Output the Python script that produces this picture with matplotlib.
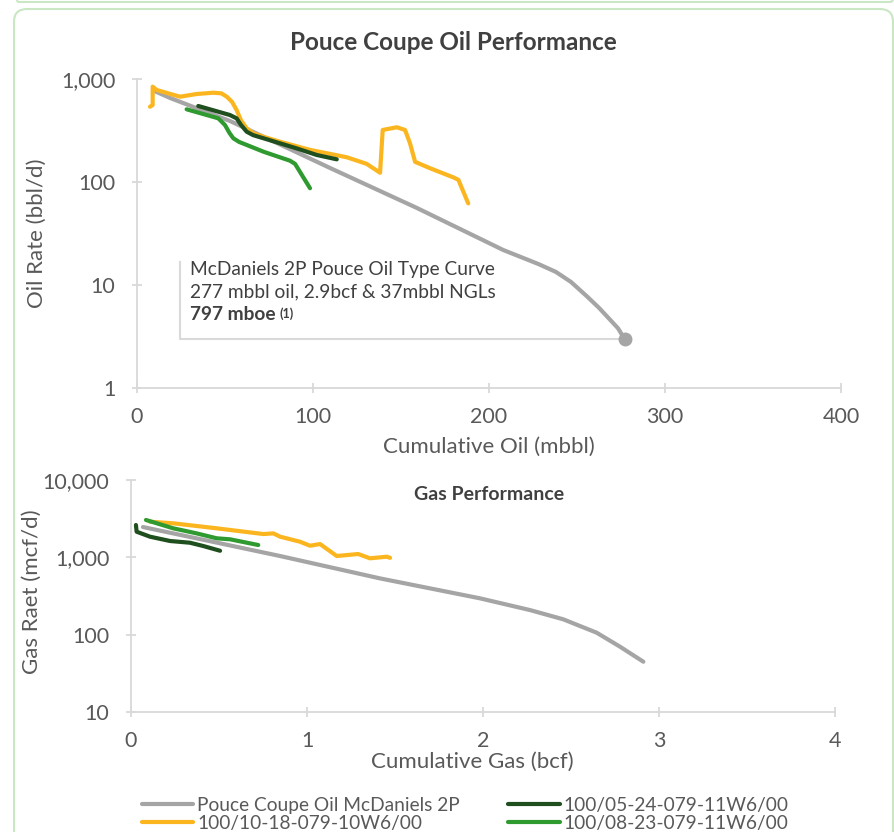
import numpy as np
import matplotlib
matplotlib.use("Agg")
import matplotlib.pyplot as plt
from matplotlib.patches import FancyBboxPatch
from matplotlib.ticker import FixedLocator, FuncFormatter, NullLocator

plt.rcParams['font.family'] = ['Lato', 'DejaVu Sans']

# --- oil performance (cum oil mbbl, rate bbl/d) ---
tc_oil_cum = [10, 18.8, 53, 110, 159, 208, 228, 238, 246.6, 255.5, 262.5, 268.8, 273.3, 277]
tc_oil_rate = [764, 654, 390, 136, 56, 21.9, 16.0, 13.4, 10.7, 7.8, 6.0, 4.6, 3.8, 3.0]

w1018_oil_cum = [7.4, 8.9, 8.9, 11.2, 24.4, 33.9, 43.4, 48, 51, 54, 56.6, 59, 62.3, 66, 71.8, 81.3, 98.3,
                 119.1, 130.5, 138.1, 139.6, 147.6, 152.3, 155.1, 158, 166.5, 179.7, 182.6, 188.2]
w1018_oil_rate = [538, 559, 842, 782, 673, 715, 736, 725, 673, 600, 500, 400, 332, 298, 275, 246, 205,
                  174, 150, 123, 320, 340, 320, 238, 157, 136, 111, 105, 62]

w0524_oil_cum = [34.8, 52.8, 56.6, 59, 62.3, 66, 71.8, 90.7, 102.1, 113.5]
w0524_oil_rate = [547, 447, 415, 360, 308, 285, 266, 212, 183, 166]

w0823_oil_cum = [28.2, 46.2, 50, 52.5, 54.7, 58, 62.3, 71.8, 86.9, 89.8, 98.3]
w0823_oil_rate = [508, 415, 357, 300, 266, 245, 229, 197, 161, 150, 87]

# --- gas performance (cum gas bcf, rate mcf/d) ---
tc_gas_cum = [0.068, 0.847, 1.415, 1.983, 2.267, 2.456, 2.646, 2.778, 2.911]
tc_gas_rate = [2466, 1040, 534, 295, 208, 158, 106, 70, 44.7]

w1018_gas_cum = [0.108, 0.24, 0.487, 0.752, 0.809, 0.847, 0.96, 1.017, 1.074, 1.169, 1.291, 1.358, 1.453, 1.472]
w1018_gas_rate = [2890, 2754, 2372, 2000, 2040, 1849, 1592, 1413, 1486, 1040, 1104, 971, 1019, 985]

w0524_gas_cum = [0.028, 0.032, 0.108, 0.222, 0.335, 0.411, 0.506]
w0524_gas_rate = [2618, 2145, 1849, 1626, 1545, 1400, 1216]

w0823_gas_cum = [0.085, 0.24, 0.373, 0.487, 0.563, 0.723]
w0823_gas_rate = [3042, 2372, 2041, 1762, 1710, 1443]

series_names = ['Pouce Coupe Oil McDaniels 2P', '100/10-18-079-10W6/00',
                '100/05-24-079-11W6/00', '100/08-23-079-11W6/00']
series_colors = ['#a5a5a5', '#fbb61f', '#1f4f1f', '#2f9a2f']

callout_corner = (24.4, 16.7)
callout_lines = ['McDaniels 2P Pouce Oil Type Curve', '277 mbbl oil, 2.9bcf & 37mbbl NGLs']

AXIS_GRAY = '#d9d9d9'
TEXT_GRAY = '#595959'
DARK_TEXT = '#404040'


def style_axes(ax, xticks, yticks):
    for s in ['top', 'right']:
        ax.spines[s].set_visible(False)
    for s in ['left', 'bottom']:
        ax.spines[s].set_color(AXIS_GRAY)
        ax.spines[s].set_linewidth(1.3)
    ax.xaxis.set_major_locator(FixedLocator(xticks))
    ax.yaxis.set_major_locator(FixedLocator(yticks))
    ax.yaxis.set_minor_locator(NullLocator())
    ax.yaxis.set_major_formatter(FuncFormatter(lambda v, p: f'{v:,.0f}'))
    ax.xaxis.set_major_formatter(FuncFormatter(lambda v, p: f'{v:g}'))
    ax.tick_params(axis='both', direction='inout', length=7, width=1.3,
                   color=AXIS_GRAY, labelcolor=TEXT_GRAY, labelsize=15.5)
    ax.tick_params(axis='y', pad=12)
    ax.tick_params(axis='x', pad=10)


def draw(ax, x, y, color, z):
    return ax.plot(x, y, color=color, lw=3, solid_capstyle='round',
                   solid_joinstyle='round', zorder=z)[0]


fig = plt.figure(figsize=(8.94, 8.32), dpi=100)
W, H = 894, 832

# green frames
fig.patches.append(FancyBboxPatch((14 / W, -0.05), 879 / W, 1.05 - 9 / H,
                                  boxstyle='round,pad=0,rounding_size=0.015',
                                  transform=fig.transFigure, fc='none', ec='#c9e7c3', lw=1.5))
fig.patches.append(FancyBboxPatch((14 / W, 1 - 2 / H), 879 / W, 0.5,
                                  boxstyle='round,pad=0,rounding_size=0.004',
                                  transform=fig.transFigure, fc='none', ec='#c9e7c3', lw=1.5))

# ---------- oil ----------
ax1 = fig.add_axes([137 / W, 1 - 388 / H, 704 / W, 309 / H])
ax1.set_yscale('log')
ax1.set_xlim(0, 400)
ax1.set_ylim(1, 1000)
style_axes(ax1, [0, 100, 200, 300, 400], [1, 10, 100, 1000])

draw(ax1, tc_oil_cum, tc_oil_rate, series_colors[0], 2)
ax1.plot(tc_oil_cum[-1], tc_oil_rate[-1], 'o', color=series_colors[0], ms=9, zorder=3)
draw(ax1, w1018_oil_cum, w1018_oil_rate, series_colors[1], 3)
draw(ax1, w0524_oil_cum, w0524_oil_rate, series_colors[2], 4)
draw(ax1, w0823_oil_cum, w0823_oil_rate, series_colors[3], 4)

# callout
ax1.plot([callout_corner[0], callout_corner[0], tc_oil_cum[-1]],
         [callout_corner[1], tc_oil_rate[-1], tc_oil_rate[-1]],
         color=AXIS_GRAY, lw=1.5, zorder=1)
tx = (190 - 137) / 704
for i, line in enumerate(callout_lines):
    ax1.text(tx, 1 - (270 + 22 * i - 79) / 309, line, transform=ax1.transAxes,
             fontsize=13.8, color=DARK_TEXT, va='center', ha='left')
t3 = ax1.text(tx, 1 - (314 - 79) / 309, '797 mboe', transform=ax1.transAxes,
              fontsize=13.8, color=DARK_TEXT, va='center', ha='left', fontweight='bold')
ax1.annotate('(1)', xy=(1, 1), xycoords=t3, xytext=(3, -1), textcoords='offset points',
             fontsize=9, fontweight='bold', color=DARK_TEXT, va='top', ha='left')

fig.text(453 / W, 1 - 42 / H, 'Pouce Coupe Oil Performance', ha='center', va='center',
         fontsize=17.5, fontweight='bold', color=DARK_TEXT)
fig.text(37 / W, 1 - 233 / H, 'Oil Rate (bbl/d)', rotation=90, ha='center', va='center',
         fontsize=16, color=TEXT_GRAY)
fig.text(489 / W, 1 - 447 / H, 'Cumulative Oil (mbbl)', ha='center', va='center',
         fontsize=16, color=TEXT_GRAY)

# ---------- gas ----------
ax2 = fig.add_axes([131 / W, 1 - 712 / H, 704 / W, 232 / H])
ax2.set_yscale('log')
ax2.set_xlim(0, 4)
ax2.set_ylim(10, 10000)
style_axes(ax2, [0, 1, 2, 3, 4], [10, 100, 1000, 10000])

h0 = draw(ax2, tc_gas_cum, tc_gas_rate, series_colors[0], 2)
h1 = draw(ax2, w1018_gas_cum, w1018_gas_rate, series_colors[1], 3)
h2 = draw(ax2, w0524_gas_cum, w0524_gas_rate, series_colors[2], 4)
h3 = draw(ax2, w0823_gas_cum, w0823_gas_rate, series_colors[3], 4)

fig.text(489 / W, 1 - 494 / H, 'Gas Performance', ha='center', va='center',
         fontsize=14, fontweight='bold', color=DARK_TEXT)
fig.text(32 / W, 1 - 592 / H, 'Gas Raet (mcf/d)', rotation=90, ha='center', va='center',
         fontsize=16, color=TEXT_GRAY)
fig.text(472 / W, 1 - 762 / H, 'Cumulative Gas (bcf)', ha='center', va='center',
         fontsize=16, color=TEXT_GRAY)

# legend: column-wise fill -> row 1 = gray, dark green ; row 2 = yellow, green
fig.legend([h0, h1, h2, h3], series_names, ncol=2, loc='upper left',
           bbox_to_anchor=(132 / W, 1 - 787 / H), frameon=False,
           fontsize=13.8, handlelength=2.7, handletextpad=0.2, columnspacing=2.5,
           labelspacing=0.08, borderpad=0, labelcolor=TEXT_GRAY)

fig.savefig('out.png', dpi=100)
